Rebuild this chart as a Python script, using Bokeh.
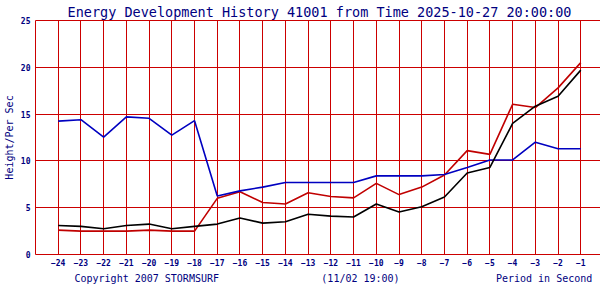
from bokeh.plotting import figure
from bokeh.models import Range1d, FixedTicker, Legend, LegendItem, Title
from bokeh.embed import file_html
from bokeh.resources import INLINE

hours = list(range(-24, 0))
swell_height = [2.6, 2.5, 2.5, 2.5, 2.6, 2.5, 2.5, 6.0, 6.7, 5.55, 5.4, 6.6,
                6.2, 6.05, 7.6, 6.4, 7.2, 8.5, 11.1, 10.7, 16.05, 15.7, 17.8, 20.5]
swell_period = [14.25, 14.4, 12.55, 14.7, 14.55, 12.75, 14.3, 6.25, 6.8, 7.2, 7.7, 7.7,
                7.7, 7.7, 8.4, 8.4, 8.4, 8.55, 9.3, 10.1, 10.1, 12.0, 11.3, 11.3]
max_wave = [3.1, 3.0, 2.75, 3.1, 3.25, 2.75, 3.0, 3.25, 3.9, 3.35, 3.5, 4.3,
            4.1, 4.0, 5.4, 4.55, 5.1, 6.15, 8.7, 9.3, 14.0, 15.85, 16.9, 19.7]
y_ticks = [0, 5, 10, 15, 20, 25]

title_text = "Energy Development History 41001 from Time 2025-10-27 20:00:00"
footer_parts = ["Copyright 2007 STORMSURF", "(11/02 19:00)", "Period in Second"]
navy = "#000080"
grid_red = "#cc0000"
mono = "DejaVu Sans Mono"
NB = "\u00a0"

p = figure(frame_width=568, frame_height=234, output_backend="svg", toolbar_location=None,
           x_range=Range1d(-25, 0), y_range=Range1d(0, 25),
           min_border_left=31, min_border_right=1, min_border_top=20, min_border_bottom=46)
p.background_fill_color = "white"
p.border_fill_color = "white"
p.outline_line_color = grid_red
p.outline_line_width = 1

p.title.text = title_text
p.title.text_font = mono
p.title.text_font_size = "13.5px"
p.title.text_font_style = "normal"
p.title.text_color = navy
p.title.align = "center"
p.title.standoff = 2

p.xaxis.ticker = FixedTicker(ticks=hours)
p.yaxis.ticker = FixedTicker(ticks=y_ticks)
for ax in (p.xaxis, p.yaxis):
    ax.axis_line_color = None
    ax.major_tick_line_color = None
    ax.minor_tick_line_color = None
    ax.major_tick_out = 0
    ax.major_tick_in = 0
    ax.minor_tick_out = 0
    ax.major_label_text_font = mono
    ax.major_label_text_font_size = "8px"
    ax.major_label_text_font_style = "bold"
    ax.major_label_text_color = navy
p.xaxis.major_label_standoff = 4
p.yaxis.major_label_standoff = 5
p.yaxis.axis_label = "Height/Per Sec"
p.yaxis.axis_label_text_font = mono
p.yaxis.axis_label_text_font_size = "10px"
p.yaxis.axis_label_text_font_style = "normal"
p.yaxis.axis_label_text_color = navy
p.yaxis.axis_label_standoff = 3

p.xgrid.grid_line_color = grid_red
p.ygrid.grid_line_color = grid_red
p.xgrid.grid_line_alpha = 1
p.ygrid.grid_line_alpha = 1

r1 = p.line(hours, swell_height, line_color="#c00000", line_width=1.6)
r2 = p.line(hours, swell_period, line_color="#0000c0", line_width=1.6)
r3 = p.line(hours, max_wave, line_color="#000000", line_width=1.6)

footer_text = footer_parts[0] + NB * 17 + footer_parts[1] + NB * 16 + footer_parts[2]
footer = Title(text=footer_text, align="left", offset=39, text_font=mono,
               text_font_size="10px", text_font_style="normal", text_color=navy,
               standoff=4)
p.add_layout(footer, "below")

legend = Legend(items=[LegendItem(label="Swell Height", renderers=[r1]),
                       LegendItem(label="Swell Period", renderers=[r2]),
                       LegendItem(label="Max Wave Height", renderers=[r3])],
                orientation="horizontal", location="center",
                glyph_width=14, glyph_height=8, label_standoff=3, spacing=24,
                padding=0, margin=0, border_line_color=None,
                background_fill_alpha=0,
                label_text_font=mono, label_text_font_size="8px",
                label_text_font_style="bold", label_text_color=navy,
                label_height=8)
p.add_layout(legend, "below")

open("out.html", "w").write(file_html(p, INLINE))
